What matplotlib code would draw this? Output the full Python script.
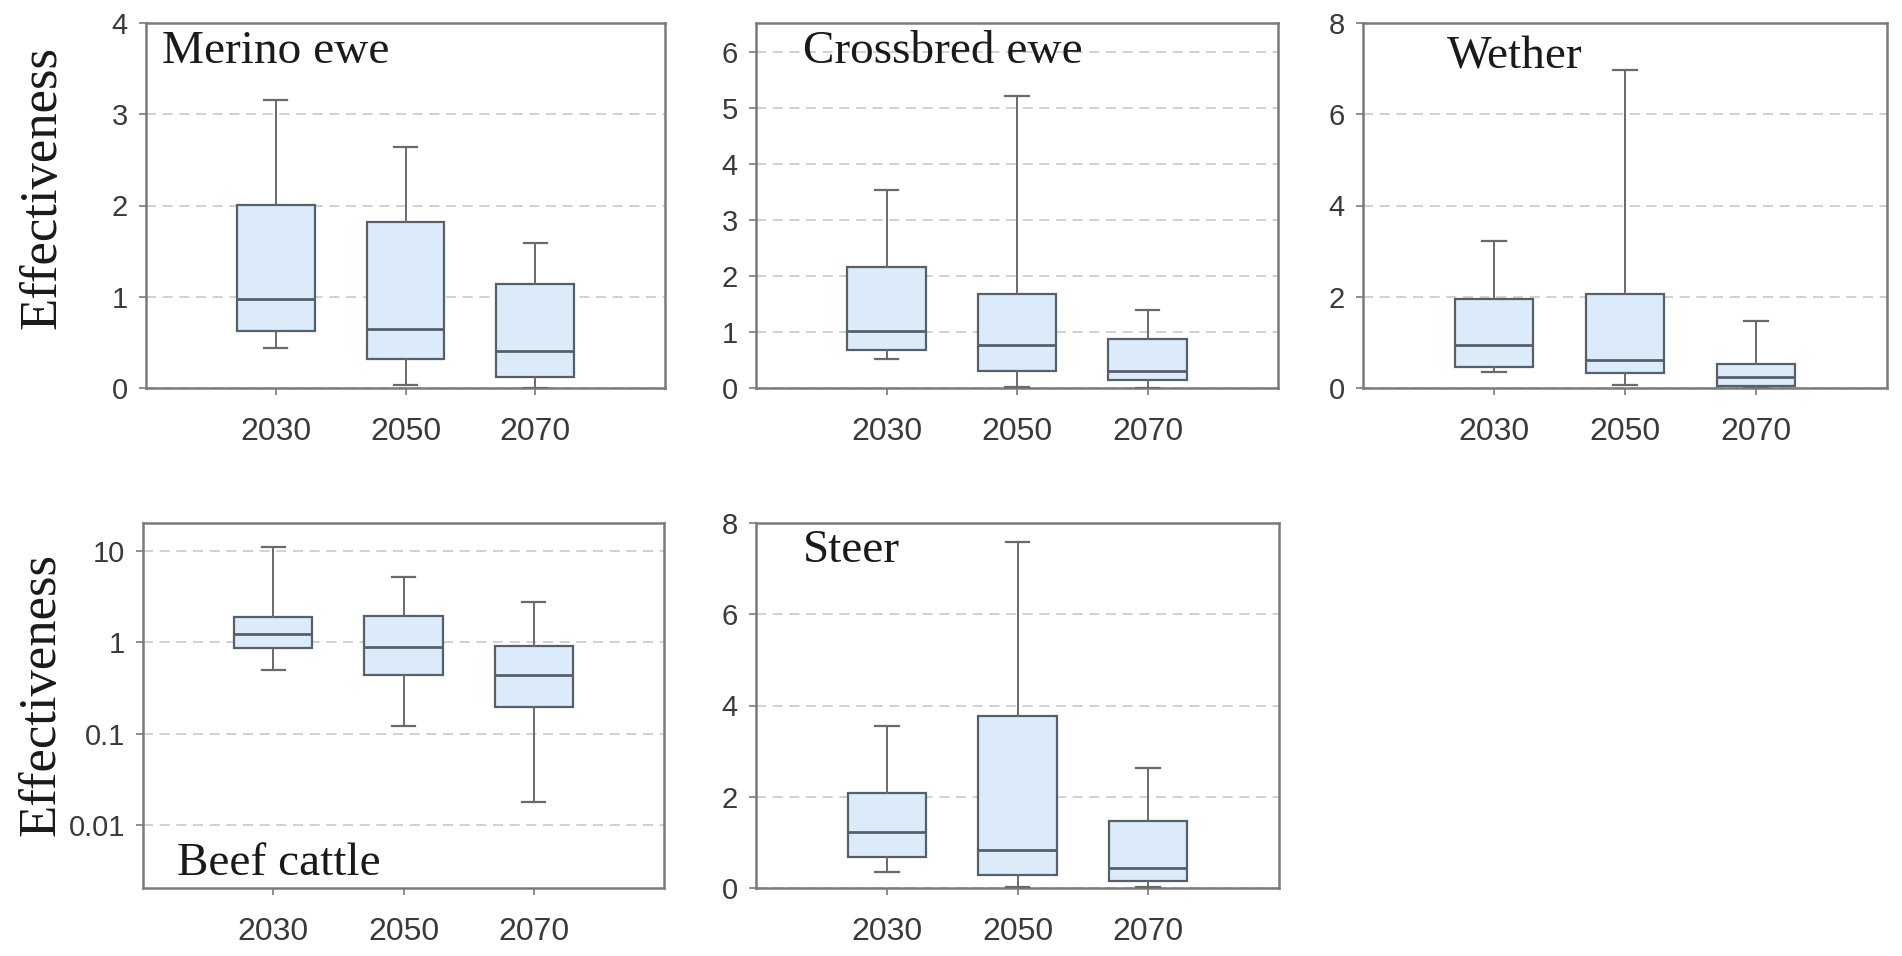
import numpy as np
import matplotlib
matplotlib.use('Agg')
import matplotlib.pyplot as plt
from matplotlib.ticker import NullLocator

# ---- data -----------------------------------------------------------------
years = ['2030', '2050', '2070']

# each row: [whisker low, Q1, median, Q3, whisker high] for 2030, 2050, 2070
merino = [[0.44, 0.62, 0.97, 2.01, 3.16],
          [0.03, 0.32, 0.65, 1.82, 2.64],
          [0.00, 0.12, 0.41, 1.14, 1.59]]
crossbred = [[0.51, 0.67, 1.01, 2.16, 3.54],
             [0.02, 0.30, 0.76, 1.68, 5.21],
             [0.00, 0.15, 0.30, 0.87, 1.40]]
wether = [[0.36, 0.47, 0.95, 1.96, 3.22],
          [0.06, 0.33, 0.61, 2.05, 6.96],
          [0.00, 0.04, 0.24, 0.52, 1.47]]
beef = [[0.50, 0.87, 1.24, 1.89, 11.2],
        [0.12, 0.435, 0.88, 1.93, 5.2],
        [0.018, 0.196, 0.44, 0.92, 2.74]]
steer = [[0.34, 0.68, 1.23, 2.08, 3.54],
         [0.02, 0.28, 0.83, 3.78, 7.58],
         [0.02, 0.15, 0.44, 1.46, 2.63]]

FILL = '#dcebf9'
EDGE = '#56606a'
SPINE = '#7a7a7a'
TICKC = '#3a3a3a'
GRIDC = '#c9c9c9'
SERIF = 'Liberation Serif'


def stats(rows):
    return [dict(whislo=lo, q1=q1, med=med, q3=q3, whishi=hi, fliers=[])
            for lo, q1, med, q3, hi in rows]


def panel(rect, rows, title, ylim, yticks, log=False,
          title_xy=(0.03, 0.89), ylabel_xy=None):
    ax = fig.add_axes(rect)
    if log:
        ax.set_yscale('log')
    ax.bxp(stats(rows), positions=[1, 2, 3], widths=0.6, patch_artist=True,
           boxprops=dict(facecolor=FILL, edgecolor=EDGE, linewidth=1.6),
           medianprops=dict(color=EDGE, linewidth=2.0),
           whiskerprops=dict(color='#6a6a6a', linewidth=1.4),
           capprops=dict(color='#6a6a6a', linewidth=1.6),
           capwidths=0.18, zorder=3)
    ax.set_xlim(0, 4)
    ax.set_ylim(*ylim)
    ax.set_yticks(yticks)
    if log:
        ax.set_yticklabels(['0.01', '0.1', '1', '10'])
        ax.yaxis.set_minor_locator(NullLocator())
    ax.set_xticks([1, 2, 3])
    ax.set_xticklabels(years)
    ax.yaxis.grid(True, color=GRIDC, linestyle=(0, (6, 4)), linewidth=1.2)
    ax.set_axisbelow(True)
    for s in ax.spines.values():
        s.set_color(SPINE)
        s.set_linewidth(1.8)
    ax.tick_params(axis='both', colors=SPINE, labelcolor=TICKC,
                   length=5, width=1.2, direction='out')
    ax.tick_params(axis='y', labelsize=21, pad=8)
    ax.tick_params(axis='x', labelsize=23, pad=16)
    ax.text(title_xy[0], title_xy[1], title, transform=ax.transAxes,
            family=SERIF, fontsize=34, color='#1a1a1a',
            ha='left', va='baseline')
    if ylabel_xy is not None:
        ax.set_ylabel('Effectiveness', family=SERIF, fontsize=38,
                      color='#1a1a1a', va='center')
        ax.yaxis.set_label_coords(*ylabel_xy)
    return ax


plt.rcParams['font.family'] = ['Liberation Sans', 'DejaVu Sans']
fig = plt.figure(figsize=(19.02, 9.56), dpi=100)

W, H = 1902, 956


def rect(x0, x1, y0, y1):
    return [x0 / W, 1 - y1 / H, (x1 - x0) / W, (y1 - y0) / H]


panel(rect(146, 665, 23, 388), merino, 'Merino ewe', (0, 4), [0, 1, 2, 3, 4],
      title_xy=(0.03, 0.89), ylabel_xy=(-0.2, 0.548))
panel(rect(756, 1278, 23, 388), crossbred, 'Crossbred ewe', (0, 6.52),
      [0, 1, 2, 3, 4, 5, 6], title_xy=(0.09, 0.89))
panel(rect(1363, 1887, 23, 388), wether, 'Wether', (0, 8), [0, 2, 4, 6, 8],
      title_xy=(0.16, 0.875))
panel(rect(143, 664, 523, 888), beef, 'Beef cattle', (0.00204, 20.3),
      [0.01, 0.1, 1, 10], log=True,
      title_xy=(0.065, 0.036), ylabel_xy=(-0.194, 0.53))
panel(rect(756, 1279, 523, 888), steer, 'Steer', (0, 8), [0, 2, 4, 6, 8],
      title_xy=(0.09, 0.893))

fig.savefig('out.png', dpi=100)
